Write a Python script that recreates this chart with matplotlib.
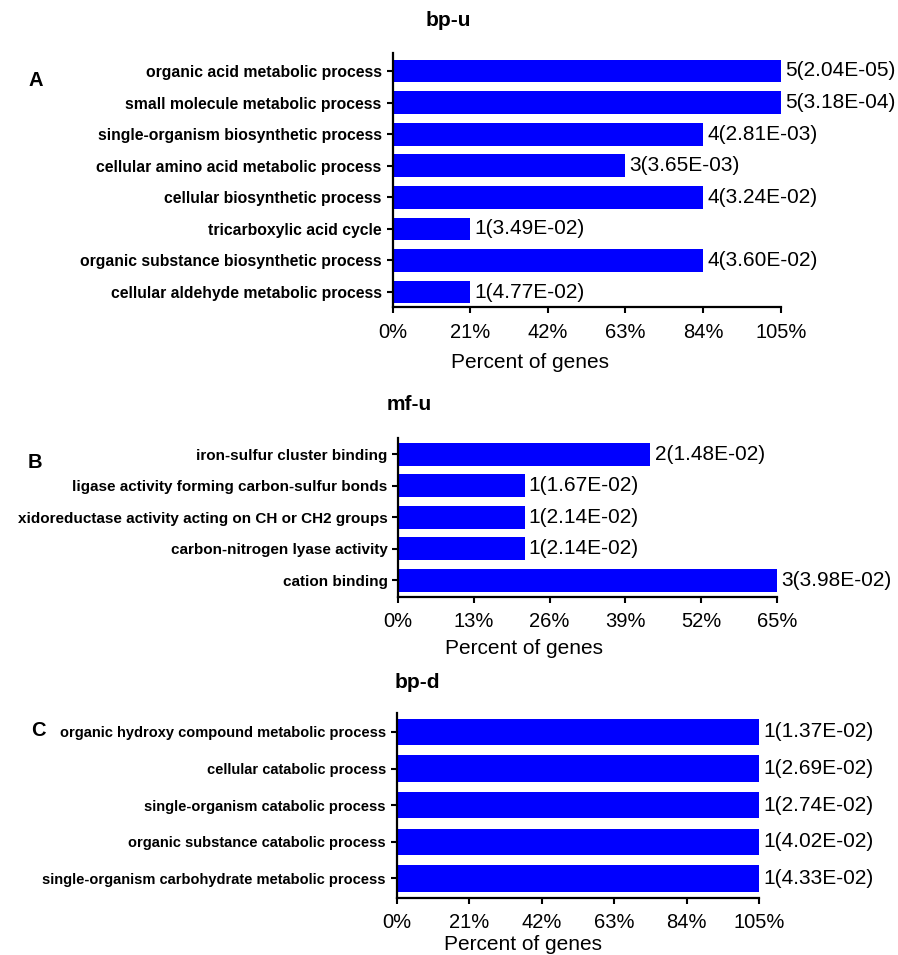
import matplotlib
matplotlib.use("Agg")
import matplotlib.pyplot as plt

plt.rcParams['font.family'] = ['Liberation Sans', 'DejaVu Sans']

# ---------------- data ----------------
a_title = "bp-u"
a_terms = ["organic acid metabolic process", "small molecule metabolic process",
           "single-organism biosynthetic process", "cellular amino acid metabolic process",
           "cellular biosynthetic process", "tricarboxylic acid cycle",
           "organic substance biosynthetic process", "cellular aldehyde metabolic process"]
a_counts = [5, 5, 4, 3, 4, 1, 4, 1]
a_percent = [105, 105, 84, 63, 84, 21, 84, 21]
a_pvals = [2.04e-05, 3.18e-04, 2.81e-03, 3.65e-03, 3.24e-02, 3.49e-02, 3.60e-02, 4.77e-02]
a_ticks = [0, 21, 42, 63, 84, 105]

b_title = "mf-u"
b_terms = ["iron-sulfur cluster binding", "ligase activity forming carbon-sulfur bonds",
           "xidoreductase activity acting on CH or CH2 groups",
           "carbon-nitrogen lyase activity", "cation binding"]
b_counts = [2, 1, 1, 1, 3]
b_percent = [43.3, 21.7, 21.7, 21.7, 65]
b_pvals = [1.48e-02, 1.67e-02, 2.14e-02, 2.14e-02, 3.98e-02]
b_ticks = [0, 13, 26, 39, 52, 65]

c_title = "bp-d"
c_terms = ["organic hydroxy compound metabolic process", "cellular catabolic process",
           "single-organism catabolic process", "organic substance catabolic process",
           "single-organism carbohydrate metabolic process"]
c_counts = [1, 1, 1, 1, 1]
c_percent = [105, 105, 105, 105, 105]
c_pvals = [1.37e-02, 2.69e-02, 2.74e-02, 4.02e-02, 4.33e-02]
c_ticks = [0, 21, 42, 63, 84, 105]

x_label = "Percent of genes"
panel_letters = ["A", "B", "C"]

# ---------------- layout ----------------
W, H = 898, 955
fig = plt.figure(figsize=(W / 100, H / 100), dpi=100)


def axes_px(l, t, r, b):
    return fig.add_axes([l / W, 1 - b / H, (r - l) / W, (b - t) / H])


def draw_panel(ax, terms, percent, counts, pvals, ticks, ylim, barh, cat_size):
    y = list(range(len(terms)))
    ax.barh(y, percent, height=barh, color="#0000FF", edgecolor="none", zorder=2)
    ax.set_xlim(ticks[0], ticks[-1])
    ax.set_ylim(*ylim)
    ax.set_yticks(y)
    ax.set_yticklabels(terms, fontsize=cat_size, fontweight="bold")
    ax.set_xticks(ticks)
    ax.set_xticklabels([f"{t}%" for t in ticks], fontsize=14.5)
    for sp in ["top", "right"]:
        ax.spines[sp].set_visible(False)
    for sp in ["left", "bottom"]:
        ax.spines[sp].set_linewidth(1.6)
    ax.tick_params(axis="y", direction="out", length=4.3, width=1.5, pad=3.5)
    ax.tick_params(axis="x", direction="out", length=4.5, width=1.5, pad=6.5)
    for yi, v, n, p in zip(y, percent, counts, pvals):
        ax.annotate(f"{n}({p:.2E})", xy=(v, yi), xytext=(3, 0), textcoords="offset points",
                    va="center", ha="left", fontsize=15, annotation_clip=False)


axA = axes_px(392.5, 53, 780.7, 307.5)
draw_panel(axA, a_terms, a_percent, a_counts, a_pvals, a_ticks, (7.49, -0.57), 0.72, 11.35)
axB = axes_px(398.3, 438.3, 776.7, 596.7)
draw_panel(axB, b_terms, b_percent, b_counts, b_pvals, b_ticks, (4.53, -0.5), 0.73, 11.0)
axC = axes_px(396.7, 713.3, 759.3, 897.5)
draw_panel(axC, c_terms, c_percent, c_counts, c_pvals, c_ticks, (4.52, -0.51), 0.72, 10.5)


def ftext(x, y, s, **kw):
    fig.text(x / W, 1 - y / H, s, **kw)


# titles
ftext(448, 20, a_title, fontsize=15, fontweight="bold", ha="center", va="center")
ftext(409, 405, b_title, fontsize=15, fontweight="bold", ha="center", va="center")
ftext(417, 683, c_title, fontsize=15, fontweight="bold", ha="center", va="center")
# panel letters
ftext(36, 80, panel_letters[0], fontsize=14.5, fontweight="bold", ha="center", va="center")
ftext(35, 462, panel_letters[1], fontsize=14.5, fontweight="bold", ha="center", va="center")
ftext(38, 730, panel_letters[2], fontsize=14.5, fontweight="bold", ha="center", va="center")
# x labels
ftext(530, 368, x_label, fontsize=15, ha="center", va="baseline")
ftext(524, 654, x_label, fontsize=15, ha="center", va="baseline")
ftext(523, 950, x_label, fontsize=15, ha="center", va="baseline")

fig.savefig("out.png", dpi=100, facecolor="white")
